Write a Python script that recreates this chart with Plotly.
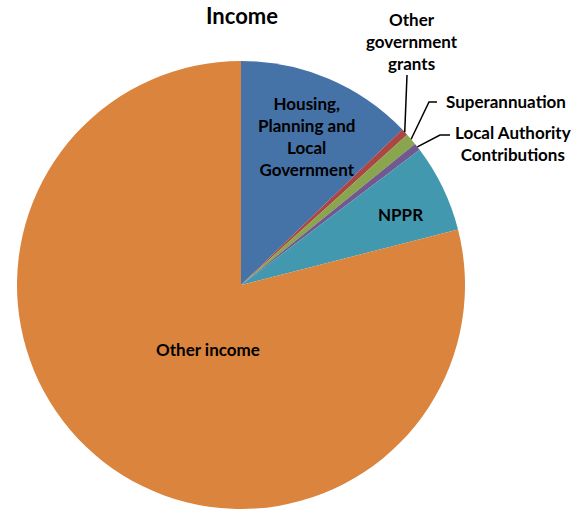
import math
import plotly.graph_objects as go

categories = ["Housing, Planning and Local Government", "Other government grants",
              "Superannuation", "Local Authority Contributions", "NPPR", "Other income"]
values = [12.8, 0.5, 0.86, 0.53, 6.33, 79.0]
colors = ["#4572A7", "#AA4643", "#89A54E", "#71588F", "#4198AF", "#DB843D"]

W, H = 585, 509
FONT = "Lato"

# pie placement (pixels)
cx, cy, R = 241, 285, 224
dom_x = [(cx - R) / W, (cx + R) / W]
dom_y = [max(0, 1 - (cy + R) / H), 1 - (cy - R) / H]

fig = go.Figure(go.Pie(
    labels=categories, values=values, sort=False, direction="clockwise", rotation=0,
    marker=dict(colors=colors, line=dict(width=0)),
    textinfo="none", hoverinfo="label+percent", showlegend=False,
    domain=dict(x=dom_x, y=dom_y),
))

def px(x, y):
    return x / W, 1 - y / H

total = sum(values)
cum = 0
mids = []
for v in values:
    mids.append((cum + v / 2) / total * 2 * math.pi)
    cum += v

def anchor(i, rr=1.0):
    a = mids[i]
    return cx + R * rr * math.sin(a), cy - R * rr * math.cos(a)

ann = []
def text_ann(txt, x, y, size=17, yanchor="middle"):
    X, Y = px(x, y)
    ann.append(dict(text=txt, x=X, y=Y, xref="paper", yref="paper", showarrow=False,
                    font=dict(family=FONT, size=size, color="black"),
                    xanchor="center", yanchor=yanchor, align="center"))

shapes = []
def polyline(pts):
    d = ""
    for k, (x, y) in enumerate(pts):
        X, Y = px(x, y)
        d += ("M" if k == 0 else " L") + f" {X:.5f} {Y:.5f}"
    shapes.append(dict(type="path", path=d, xref="paper", yref="paper",
                       line=dict(color="black", width=1.5)))

# title
text_ann("<b>Income</b>", 242, 0, size=22, yanchor="top")

# inside labels
text_ann("<b>Housing,<br>Planning and<br>Local<br>Government</b>", 306, 136)
text_ann("<b>NPPR</b>", 400, 215)
text_ann("<b>Other income</b>", 208, 349)

# outside labels with leader lines
text_ann("<b>Other<br>government<br>grants</b>", 412, 42)
polyline([(407, 75), anchor(1)])

text_ann("<b>Superannuation</b>", 506, 101)
polyline([(437, 102), (429, 102), anchor(2)])

text_ann("<b>Local Authority<br>Contributions</b>", 513, 143)
polyline([(450, 135), (440, 135), anchor(3)])

fig.update_layout(
    width=W, height=H, margin=dict(l=0, r=0, t=0, b=0),
    paper_bgcolor="white", plot_bgcolor="white",
    annotations=ann, shapes=shapes,
)

fig.write_html("out.html", config={"displayModeBar": False},
               post_script="document.body.style.margin='0px';")
